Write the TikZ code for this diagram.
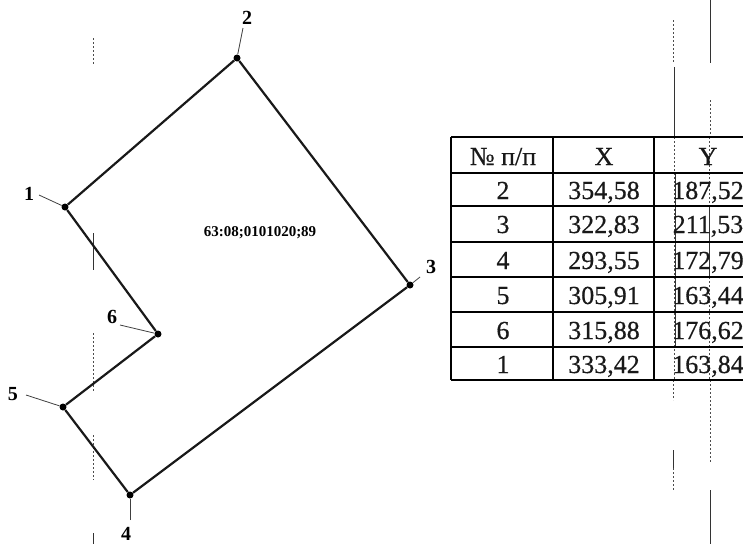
\documentclass[tikz,border=0pt]{standalone}
\usepackage{fontspec}
\setmainfont{Liberation Serif}
\newfontfamily\scanfont[FakeBold=0.5]{Liberation Serif}
\tikzset{
  vertex/.style={circle,fill=black,inner sep=0pt,minimum size=7pt},
  edge/.style={line width=2.2pt,black!90},
  leader/.style={line width=0.8pt,black!75},
  ptlabel/.style={font=\fontsize{20}{20}\selectfont\bfseries,inner sep=0pt},
  parcel/.style={font=\fontsize{15}{15}\selectfont\bfseries,inner sep=0pt},
  cell/.style={font=\scanfont\fontsize{26}{26}\selectfont,inner sep=0pt,black!90,anchor=base},
  headcell/.style={font=\scanfont\fontsize{26}{26}\selectfont,inner sep=0pt,black!90,anchor=base},
  gridheavy/.style={line width=2.2pt},
  gridthin/.style={line width=1.7pt},
  scanline/.style={line width=1pt,black!80},
  scandash/.style={line width=0.9pt,black!70,dash pattern=on 2pt off 2pt},
}
\begin{document}
\begin{tikzpicture}[x=1pt,y=-1pt]
\useasboundingbox (0,0) rectangle (743,544);
% scan artefact lines
\draw[scandash] (93,38) -- (93,64);
\draw[scanline] (93,233) -- (93,270);
\draw[scandash] (93,333) -- (93,391);
\draw[scandash] (93,435) -- (93,480);
\draw[scanline] (93,533) -- (93,544);
\draw[scandash] (673,20) -- (673,62);
\draw[scanline] (674,67) -- (674,137);
\draw[scandash] (710,100) -- (710,137);
\draw[scanline] (710,0) -- (710,63);
\draw[scandash] (674,137) -- (674,380);
\draw[scanline] (675,173) -- (675,347);
\draw[scandash] (709,137) -- (709,380);
\draw[scanline] (709,206) -- (709,277);
\draw[scandash] (673,380) -- (673,400);
\draw[scanline] (673,450) -- (673,468);
\draw[scandash] (673,468) -- (673,490);
\draw[scandash] (710,380) -- (710,462);
\draw[scanline] (710,490) -- (710,544);
% plot
\node[vertex] (v1) at (65,207) {};
\node[vertex] (v2) at (237,58) {};
\node[vertex] (v3) at (410,285) {};
\node[vertex] (v4) at (130,495) {};
\node[vertex] (v5) at (63,407) {};
\node[vertex] (v6) at (158,334) {};
\draw[edge] (v1) -- (v2) -- (v3) -- (v4) -- (v5) -- (v6) -- (v1);
\node[ptlabel] (l1) at (29,194) {1};
\node[ptlabel] (l2) at (247,18) {2};
\node[ptlabel] (l3) at (431,267) {3};
\node[ptlabel] (l4) at (126,534) {4};
\node[ptlabel] (l5) at (13,394) {5};
\node[ptlabel] (l6) at (112,317) {6};
\coordinate (e1) at (39,195);
\coordinate (e2) at (243,28);
\coordinate (e3) at (420,277);
\coordinate (e4) at (130,520);
\coordinate (e5) at (26,395);
\coordinate (e6) at (120,325);
\draw[leader] (e1) -- (v1);
\draw[leader] (e2) -- (v2);
\draw[leader] (e3) -- (v3);
\draw[leader] (e4) -- (v4);
\draw[leader] (e5) -- (v5);
\draw[leader] (e6) -- (v6);
\node[parcel] (parcel) at (260,233) {63:08;0101020;89};
% table
\draw[gridheavy] (451,137) -- (743,137);
\draw[gridheavy] (451,173) -- (743,173);
\draw[gridthin] (451,206) -- (743,206);
\draw[gridthin] (451,242) -- (743,242);
\draw[gridthin] (451,277) -- (743,277);
\draw[gridthin] (451,312) -- (743,312);
\draw[gridheavy] (451,347) -- (743,347);
\draw[gridheavy] (451,380) -- (743,380);
\draw[line width=2.8pt] (451,137) -- (451,380);
\draw[gridthin] (553,137) -- (553,380);
\draw[gridthin] (654,137) -- (654,380);
\node[headcell] (hn) at (503,165) {№ п/п};
\node[headcell] (hx) at (604,165) {X};
\node[headcell] (hy) at (708,165) {Y};
\node[cell] (a1) at (503,199) {2};
\node[cell] (b1) at (604,199) {354,58};
\node[cell] (c1) at (708,199) {187,52};
\node[cell] (a2) at (503,233) {3};
\node[cell] (b2) at (604,233) {322,83};
\node[cell] (c2) at (708,233) {211,53};
\node[cell] (a3) at (503,269) {4};
\node[cell] (b3) at (604,269) {293,55};
\node[cell] (c3) at (708,269) {172,79};
\node[cell] (a4) at (503,304) {5};
\node[cell] (b4) at (604,304) {305,91};
\node[cell] (c4) at (708,304) {163,44};
\node[cell] (a5) at (503,339) {6};
\node[cell] (b5) at (604,339) {315,88};
\node[cell] (c5) at (708,339) {176,62};
\node[cell] (a6) at (503,373) {1};
\node[cell] (b6) at (604,373) {333,42};
\node[cell] (c6) at (708,373) {163,84};
\end{tikzpicture}
\end{document}
